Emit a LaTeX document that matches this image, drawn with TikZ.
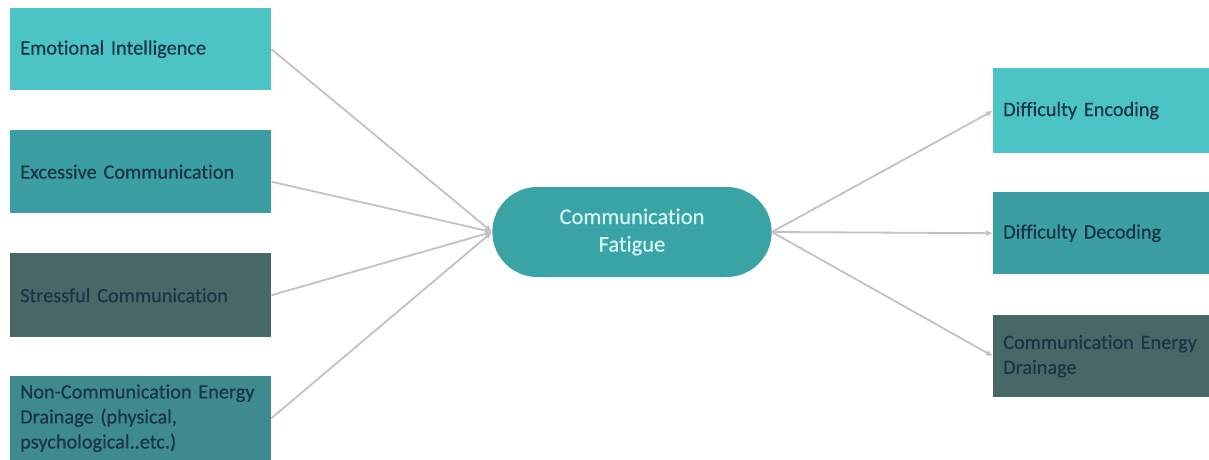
\documentclass[tikz,border=0pt]{standalone}
\usepackage{fontspec}
\setmainfont{Carlito}[WordSpace=0.8, FakeBold=0.5, Ligatures={NoCommon}]
\usetikzlibrary{arrows.meta,shapes.misc}
\definecolor{tealA}{HTML}{4CC4C6}
\definecolor{tealB}{HTML}{3B9EA2}
\definecolor{slateC}{HTML}{486868}
\definecolor{tealD}{HTML}{3E8A8C}
\definecolor{pillfill}{HTML}{3AA3A5}
\definecolor{inktext}{HTML}{1A3644}
\definecolor{pilltext}{HTML}{D3F7F6}
\definecolor{linkgray}{HTML}{C2C2C2}
\tikzset{
  box/.style={rectangle, anchor=north west, inner xsep=10pt, inner ysep=0pt,
    text width=241pt, minimum height=82pt, align=left, text=inktext,
    font=\fontsize{20.3}{25}\selectfont},
  rbox/.style={box, text width=196pt},
  pill/.style={rounded rectangle, fill=pillfill, minimum width=286pt,
    minimum height=90pt, align=center, text=pilltext,
    font=\fontsize{22.5}{27.5}\selectfont},
  link/.style={draw=linkgray, line width=1.8pt, -{Latex[length=7pt,width=6pt]}}
}
\begin{document}
\begin{tikzpicture}[x=1pt,y=-1pt]
\useasboundingbox[fill=white] (0,0) rectangle (1209,460);
% causes
\node[box, fill=tealA] (ei) at (10,8) {Emotional Intelligence};
\node[box, fill=tealB, minimum height=83pt] (ec) at (10,130) {Excessive Communication};
\node[box, fill=slateC, minimum height=84pt] (sc) at (10,253) {Stressful Communication};
\node[box, fill=tealD, minimum height=84pt] (nc) at (10,376) {Non-Communication Energy\\Drainage (physical,\\psychological..etc.)};
% central state
\node[pill] (cf) at (632,232) {Communication\\Fatigue};
% consequences
\node[rbox, fill=tealA, minimum height=85pt] (de) at (993,68) {Difficulty Encoding};
\node[rbox, fill=tealB, minimum height=82pt] (dd) at (993,192) {Difficulty Decoding};
\node[rbox, fill=slateC, minimum height=82pt] (ed) at (993,315) {Communication Energy\\Drainage};
% connectors
\draw[link] (ei.east) -- (cf.west);
\draw[link] ([yshift=-10pt]ec.east) -- (cf.west);
\draw[link] (sc.east) -- (cf.west);
\draw[link] (nc.east) -- (cf.west);
\draw[link] (cf.east) -- (de.west);
\draw[link] (cf.east) -- (dd.west);
\draw[link] (cf.east) -- (ed.west);
\end{tikzpicture}
\end{document}
